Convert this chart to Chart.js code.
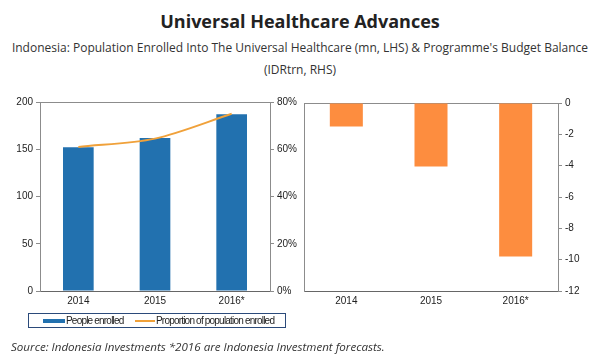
<!DOCTYPE html>
<html>
<head>
<meta charset="utf-8">
<script src="https://cdn.jsdelivr.net/npm/chart.js@4"></script>
<style>
  body { margin: 0; width: 600px; height: 360px; background: #fff; position: relative; overflow: hidden; font-family: "Open Sans", sans-serif; }
  #title { position: absolute; left: 0; top: 9px; width: 600px; text-align: center; font-weight: bold; font-size: 18px; color: #222; }
  #subtitle { position: absolute; left: 0; top: 37px; width: 600px; text-align: center; font-size: 12px; line-height: 22px; color: #333; }
  #leftChart { position: absolute; left: 0; top: 90px; }
  #rightChart { position: absolute; left: 300px; top: 90px; }
  #legend { position: absolute; left: 28px; top: 313px; width: 256px; height: 13px; border: 1px solid #2b4a7a; font-family: "Liberation Sans", Arial, sans-serif; font-size: 10px; line-height: 13px; color: #222; letter-spacing: -0.8px; }
  .item { position: absolute; top: 0; white-space: nowrap; }
  .swatch { display: inline-block; vertical-align: middle; margin-right: 1px; }
  #source { position: absolute; left: 11px; top: 339px; font-style: italic; font-size: 11.6px; color: #333; }
</style>
</head>
<body>
<div id="title">Universal Healthcare Advances</div>
<div id="subtitle">Indonesia: Population Enrolled Into The Universal Healthcare (mn, LHS) &amp; Programme's Budget Balance<br>(IDRtrn, RHS)</div>
<canvas id="leftChart" width="300" height="225"></canvas>
<canvas id="rightChart" width="300" height="225"></canvas>
<div id="legend"></div>
<div id="source">Source: Indonesia Investments *2016 are Indonesia Investment forecasts.</div>
<script>
// Données
const years = ['2014', '2015', '2016*'];
const peopleEnrolled = [152, 162, 187];          // mn, LHS
const proportionEnrolled = [0.61, 0.645, 0.75];  // part de la population
const budgetBalance = [-1.5, -4.05, -9.8];       // IDRtrn

const blue = '#2271af';
const gold = '#f0a13a';
const orange = '#fd8d3f';
const axisGrey = '#8c8c8c';
const tickFont = { family: '"Liberation Sans", Arial, sans-serif', size: 10 };

function fixWidth(w) { return function (scale) { scale.width = w; }; }
function fixHeight(h) { return function (scale) { scale.height = h; }; }

// Graphique de gauche : personnes inscrites + proportion
const leftChart = new Chart(document.getElementById('leftChart'), {
    data: {
        labels: years,
        datasets: [{
            type: 'line',
            label: 'Proportion of population enrolled',
            data: proportionEnrolled,
            yAxisID: 'y1',
            borderColor: gold,
            borderWidth: 2,
            pointRadius: 0,
            tension: 0.3,
            order: 1
        }, {
            type: 'bar',
            label: 'People enrolled',
            data: peopleEnrolled,
            yAxisID: 'y',
            backgroundColor: blue,
            barPercentage: 0.4,
            categoryPercentage: 1,
            order: 2
        }]
    },
    options: {
        responsive: false,
        animation: false,
        layout: { padding: { top: 12, bottom: 0, left: 0, right: 0 } },
        plugins: { legend: { display: false }, tooltip: { enabled: false } },
        scales: {
            x: {
                grid: { display: false, drawTicks: false },
                border: { color: '#666' },
                ticks: { font: tickFont, color: '#222', padding: 4 },
                afterFit: fixHeight(24)
            },
            xTop: {
                position: 'top',
                labels: years,
                grid: { display: false, drawTicks: false },
                border: { color: axisGrey },
                ticks: { display: false },
                afterFit: fixHeight(0)
            },
            y: {
                position: 'left',
                min: 0, max: 200,
                ticks: { stepSize: 50, font: tickFont, color: '#222', padding: 3 },
                grid: { drawOnChartArea: false, tickLength: 4, color: axisGrey },
                border: { color: axisGrey },
                afterFit: fixWidth(40)
            },
            y1: {
                position: 'right',
                min: 0, max: 0.8,
                ticks: {
                    stepSize: 0.2, font: tickFont, color: '#222', padding: 3,
                    callback: v => Math.round(v * 100) + '%'
                },
                grid: { drawOnChartArea: false, tickLength: 4, color: axisGrey },
                border: { color: axisGrey },
                afterFit: fixWidth(30)
            }
        }
    }
});

// Graphique de droite : solde budgétaire
new Chart(document.getElementById('rightChart'), {
    type: 'bar',
    data: {
        labels: years,
        datasets: [{
            label: "Programme's Budget Balance",
            data: budgetBalance,
            yAxisID: 'y',
            backgroundColor: orange,
            barPercentage: 0.39,
            categoryPercentage: 1
        }]
    },
    options: {
        responsive: false,
        animation: false,
        layout: { padding: { top: 13, bottom: 0, left: 0, right: 0 } },
        plugins: { legend: { display: false }, tooltip: { enabled: false } },
        scales: {
            x: {
                grid: { display: false, drawTicks: false },
                border: { color: '#666' },
                ticks: { font: tickFont, color: '#222', padding: 4 },
                afterFit: fixHeight(24)
            },
            xTop: {
                position: 'top',
                labels: years,
                grid: { display: false, drawTicks: false },
                border: { color: axisGrey },
                ticks: { display: false },
                afterFit: fixHeight(0)
            },
            yLeft: {
                position: 'left',
                grid: { display: false, drawTicks: false },
                border: { color: axisGrey },
                ticks: { display: false },
                afterFit: fixWidth(4)
            },
            y: {
                position: 'right',
                min: -12, max: 0,
                ticks: { stepSize: 2, font: tickFont, color: '#222', padding: 3 },
                grid: { drawOnChartArea: false, tickLength: 4, color: axisGrey },
                border: { color: axisGrey },
                afterFit: fixWidth(42)
            }
        }
    }
});

// Légende HTML construite à partir des séries
const legend = document.getElementById('legend');
const legendItems = [
    { ds: leftChart.data.datasets[1], left: 14, width: 22, height: 4, color: blue },
    { ds: leftChart.data.datasets[0], left: 106, width: 20, height: 2, color: gold }
];
legendItems.forEach(function (it) {
    const div = document.createElement('div');
    div.className = 'item';
    div.style.left = it.left + 'px';
    const sw = document.createElement('span');
    sw.className = 'swatch';
    sw.style.width = it.width + 'px';
    sw.style.height = it.height + 'px';
    sw.style.background = it.color;
    div.appendChild(sw);
    div.appendChild(document.createTextNode(it.ds.label));
    legend.appendChild(div);
});
</script>
</body>
</html>
